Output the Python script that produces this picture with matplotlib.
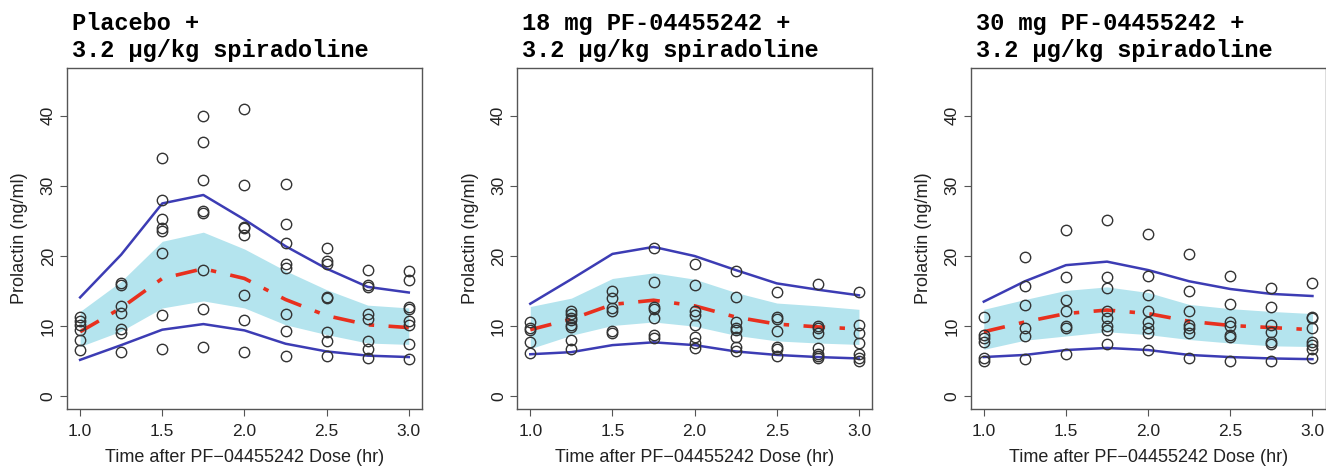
import matplotlib
matplotlib.use("Agg")
import matplotlib.pyplot as plt
import numpy as np

# DATA
times = [1.0, 1.25, 1.5, 1.75, 2.0, 2.25, 2.5, 2.75, 3.0]

titles = ["Placebo +\n3.2 \u03bcg/kg spiradoline",
          "18 mg PF-04455242 +\n3.2 \u03bcg/kg spiradoline",
          "30 mg PF-04455242 +\n3.2 \u03bcg/kg spiradoline"]

# observed prolactin per time point, one list per panel
obs_placebo = [
    [11.3, 10.7, 10.2, 9.4, 8.1, 6.6],
    [16.2, 15.9, 12.9, 11.9, 9.6, 9.0, 6.3],
    [34.0, 28.0, 25.3, 24.0, 23.6, 20.4, 11.6, 6.7],
    [40.0, 36.3, 30.9, 26.4, 26.2, 18.0, 12.5, 7.0],
    [41.0, 30.1, 24.2, 24.0, 23.0, 14.4, 10.9, 6.3],
    [30.3, 24.5, 21.8, 18.8, 18.3, 11.8, 9.3, 5.8],
    [21.1, 19.3, 18.9, 14.2, 14.0, 9.2, 7.9, 5.8],
    [18.0, 15.9, 15.6, 11.8, 11.0, 7.9, 6.8, 5.5],
    [17.8, 16.6, 12.7, 12.5, 10.8, 10.1, 7.5, 5.3],
]
obs_18mg = [
    [10.6, 9.7, 9.4, 7.7, 6.2],
    [12.1, 11.7, 11.2, 10.9, 10.2, 9.9, 8.0, 6.8],
    [15.0, 14.0, 12.6, 12.1, 9.3, 9.0],
    [21.2, 16.3, 12.7, 12.5, 11.2, 8.7, 8.3],
    [18.9, 15.9, 12.2, 11.6, 10.1, 8.5, 7.6, 6.9],
    [17.9, 14.1, 10.6, 9.8, 9.4, 8.5, 7.1, 6.4],
    [14.9, 11.3, 11.0, 9.3, 7.0, 6.7, 5.7],
    [16.0, 10.0, 9.8, 9.0, 6.9, 6.1, 5.7, 5.5],
    [14.9, 10.1, 9.0, 7.6, 6.1, 5.5, 5.1],
]
obs_30mg = [
    [11.3, 8.8, 8.3, 7.8, 5.5, 5.0],
    [19.8, 15.7, 13.0, 9.8, 8.6, 5.3],
    [23.7, 17.0, 13.7, 12.2, 10.0, 9.8, 6.1],
    [25.1, 17.0, 15.4, 12.1, 11.2, 10.0, 9.4, 7.4],
    [23.1, 17.2, 14.4, 12.1, 10.6, 9.8, 9.0, 6.6],
    [20.3, 15.0, 12.2, 10.1, 9.8, 9.0, 5.5],
    [17.2, 13.2, 10.6, 10.0, 8.8, 8.5, 5.0],
    [15.4, 12.7, 10.1, 9.2, 7.8, 7.5, 5.1],
    [16.1, 11.3, 11.1, 9.8, 7.8, 7.3, 6.8, 5.4],
]

# simulated percentiles (upper / lower 90% PI, median, CI band of median)
upper = [
    [14.1, 20.2, 27.5, 28.7, 25.2, 21.4, 18.2, 15.6, 14.8],
    [13.2, 16.7, 20.3, 21.3, 20.0, 18.0, 16.1, 15.2, 14.4],
    [13.5, 16.4, 18.7, 19.2, 18.0, 16.4, 15.3, 14.6, 14.3],
]
lower = [
    [5.2, 7.3, 9.5, 10.3, 9.4, 7.5, 6.4, 5.8, 5.6],
    [6.0, 6.3, 7.3, 7.7, 7.3, 6.4, 5.9, 5.6, 5.4],
    [5.6, 5.9, 6.6, 6.9, 6.6, 5.9, 5.6, 5.4, 5.3],
]
median = [
    [9.2, 12.6, 16.8, 18.2, 16.8, 13.8, 11.5, 10.2, 9.8],
    [9.5, 11.0, 13.1, 13.7, 12.9, 11.3, 10.3, 9.9, 9.6],
    [9.2, 10.6, 11.8, 12.3, 11.8, 10.7, 10.1, 9.8, 9.5],
]
band_hi = [
    [12.1, 16.4, 22.1, 23.4, 21.0, 17.9, 15.2, 13.0, 12.6],
    [12.8, 14.0, 16.8, 17.6, 16.7, 14.8, 13.3, 12.9, 12.4],
    [12.4, 13.8, 15.1, 15.6, 14.8, 13.1, 12.5, 12.1, 11.8],
]
band_lo = [
    [7.1, 9.3, 12.6, 13.6, 12.6, 10.2, 8.8, 7.6, 7.4],
    [6.8, 8.7, 10.1, 10.6, 10.0, 8.7, 7.9, 7.6, 7.4],
    [6.7, 8.0, 8.6, 9.2, 8.8, 8.1, 7.6, 7.2, 7.1],
]

observed = [obs_placebo, obs_18mg, obs_30mg]
lefts = [0.0505, 0.390, 0.732]

plt.rcParams['font.family'] = ['Liberation Sans', 'DejaVu Sans']

# PLOTTING
fig = plt.figure(figsize=(13.26, 4.69), dpi=100)

for i in range(3):
    ax = fig.add_axes([lefts[i], 0.128, 0.2677, 0.727])
    ax.fill_between(times, band_lo[i], band_hi[i], color='#b4e4ee', lw=0, zorder=1)
    ax.plot(times, upper[i], color='#3c3cb4', lw=1.8, zorder=2)
    ax.plot(times, lower[i], color='#3c3cb4', lw=1.8, zorder=2)
    ax.plot(times, median[i], color='#e8301e', lw=2.6, zorder=3,
            dashes=(6, 4, 1.5, 4))
    for t, vals in zip(times, observed[i]):
        ax.plot([t] * len(vals), vals, 'o', mfc='none', mec='#333333',
                mew=1.0, ms=7.5, zorder=4)

    ax.set_xlim(0.92, 3.08)
    ax.set_ylim(-1.8, 46.8)
    ax.set_xticks([1.0, 1.5, 2.0, 2.5, 3.0])
    ax.set_yticks([0, 10, 20, 30, 40])
    ax.set_yticklabels(['0', '10', '20', '30', '40'], rotation=90, va='center')
    ax.tick_params(labelsize=12.5, color='#555555', length=5, labelcolor='#222222')
    ax.tick_params(axis='x', pad=6)
    ax.tick_params(axis='y', pad=3)
    for s in ax.spines.values():
        s.set_color('#555555')
        s.set_linewidth(1.0)
    ax.set_xlabel('Time after PF\u221204455242 Dose (hr)', fontsize=13,
                  color='#222222', labelpad=7)
    ax.set_ylabel('Prolactin (ng/ml)', fontsize=13, color='#222222', labelpad=9)
    ax.set_title(titles[i], loc='left', fontsize=17, fontweight='bold',
                 family='Liberation Mono', linespacing=1.2, pad=8, x=0.015)

plt.savefig('out.png', dpi=100)
